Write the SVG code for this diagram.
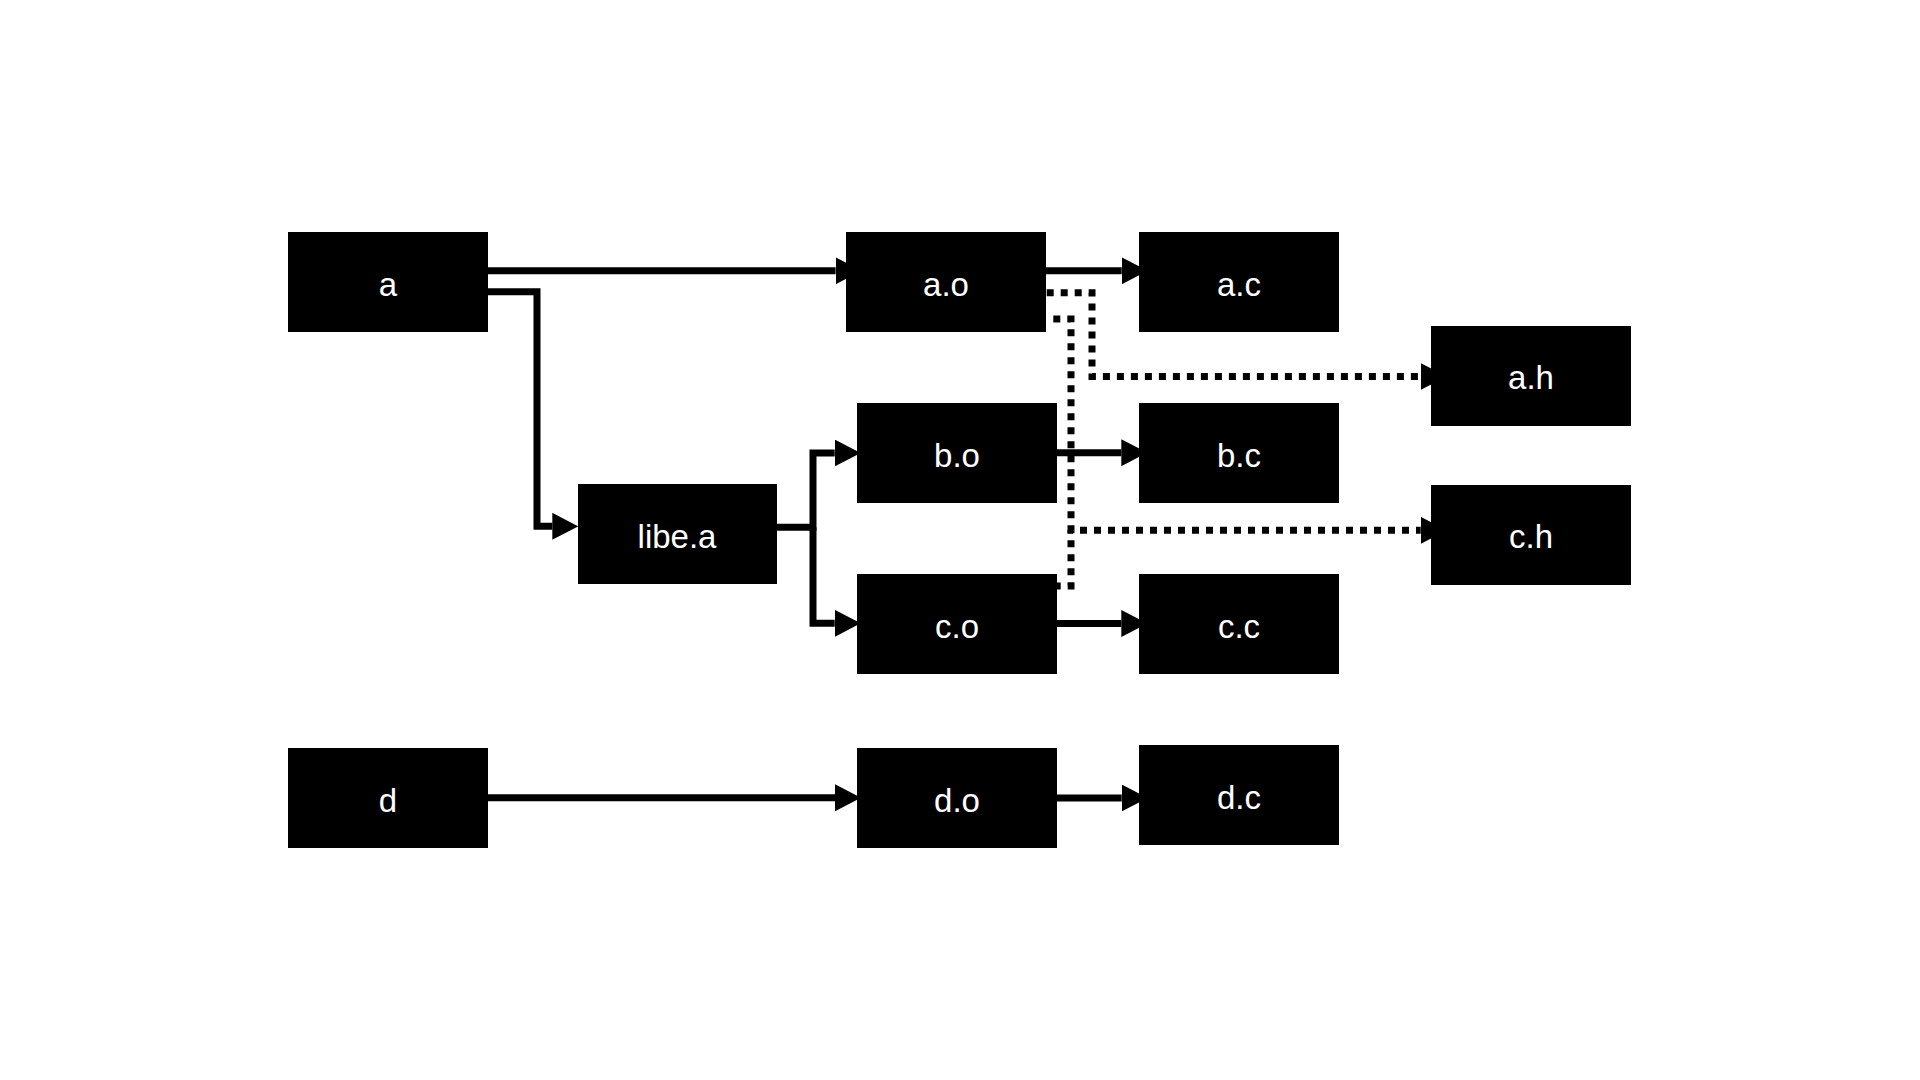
<svg xmlns="http://www.w3.org/2000/svg" width="1920" height="1080" viewBox="0 0 1920 1080">
  <defs>
    <marker id="arrow" viewBox="0 0 26 27" markerWidth="26" markerHeight="27" refX="0" refY="13.5" orient="auto" markerUnits="userSpaceOnUse">
      <path d="M0,0 L26,13.5 L0,27 Z" fill="#000"/>
    </marker>
    <style>
      .edge { fill: none; stroke: #000; stroke-width: 7; stroke-linejoin: miter; }
      .dotted { stroke-dasharray: 7 7; }
      .box { fill: #000; }
      .label { fill: #fff; font-family: "Liberation Sans", Arial, sans-serif; font-size: 33px; text-anchor: middle; }
    </style>
  </defs>
  <rect width="1920" height="1080" fill="#fff"/>

  <g id="connectors">
    <path class="edge" d="M480,270.8 H835.6" marker-end="url(#arrow)"/>
    <path class="edge" d="M480,291.8 H537 V526.3 H552.3" marker-end="url(#arrow)"/>
    <path class="edge" d="M770,527.3 H813 V453 H834.7" marker-end="url(#arrow)"/>
    <path class="edge" d="M813,527.3 V623.3 H834.7" marker-end="url(#arrow)"/>
    <path class="edge" d="M1040,270.8 H1121.7" marker-end="url(#arrow)"/>
    <path class="edge" d="M1050,452.7 H1121.3" marker-end="url(#arrow)"/>
    <path class="edge" d="M1050,623.5 H1121.3" marker-end="url(#arrow)"/>
    <path class="edge" d="M480,797.8 H835" marker-end="url(#arrow)"/>
    <path class="edge" d="M1050,798 H1121.7" marker-end="url(#arrow)"/>
    <path class="edge dotted" d="M1046.7,292.7 H1092 V376.5 H1420.7" marker-end="url(#arrow)"/>
    <path class="edge dotted" d="M1046.3,319 H1071 V530.3 H1420.7" stroke-dashoffset="7" marker-end="url(#arrow)"/>
    <path class="edge dotted" d="M1053.7,586 H1071 V530.3"/>
  </g>

  <g id="node-a"><rect class="box" x="288" y="232" width="200" height="100"/><text class="label" x="388" y="296">a</text></g>
  <g id="node-a-o"><rect class="box" x="846" y="232" width="200" height="100"/><text class="label" x="946" y="296">a.o</text></g>
  <g id="node-a-c"><rect class="box" x="1139" y="232" width="200" height="100"/><text class="label" x="1239" y="296">a.c</text></g>
  <g id="node-a-h"><rect class="box" x="1431" y="326" width="200" height="100"/><text class="label" x="1531" y="389">a.h</text></g>
  <g id="node-libe-a"><rect class="box" x="578" y="484" width="199" height="100"/><text class="label" x="677" y="548">libe.a</text></g>
  <g id="node-b-o"><rect class="box" x="857" y="403" width="200" height="100"/><text class="label" x="957" y="467">b.o</text></g>
  <g id="node-b-c"><rect class="box" x="1139" y="403" width="200" height="100"/><text class="label" x="1239" y="467">b.c</text></g>
  <g id="node-c-h"><rect class="box" x="1431" y="485" width="200" height="100"/><text class="label" x="1531" y="548">c.h</text></g>
  <g id="node-c-o"><rect class="box" x="857" y="574" width="200" height="100"/><text class="label" x="957" y="638">c.o</text></g>
  <g id="node-c-c"><rect class="box" x="1139" y="574" width="200" height="100"/><text class="label" x="1239" y="638">c.c</text></g>
  <g id="node-d"><rect class="box" x="288" y="748" width="200" height="100"/><text class="label" x="388" y="812">d</text></g>
  <g id="node-d-o"><rect class="box" x="857" y="748" width="200" height="100"/><text class="label" x="957" y="812">d.o</text></g>
  <g id="node-d-c"><rect class="box" x="1139" y="745" width="200" height="100"/><text class="label" x="1239" y="809">d.c</text></g>
</svg>
